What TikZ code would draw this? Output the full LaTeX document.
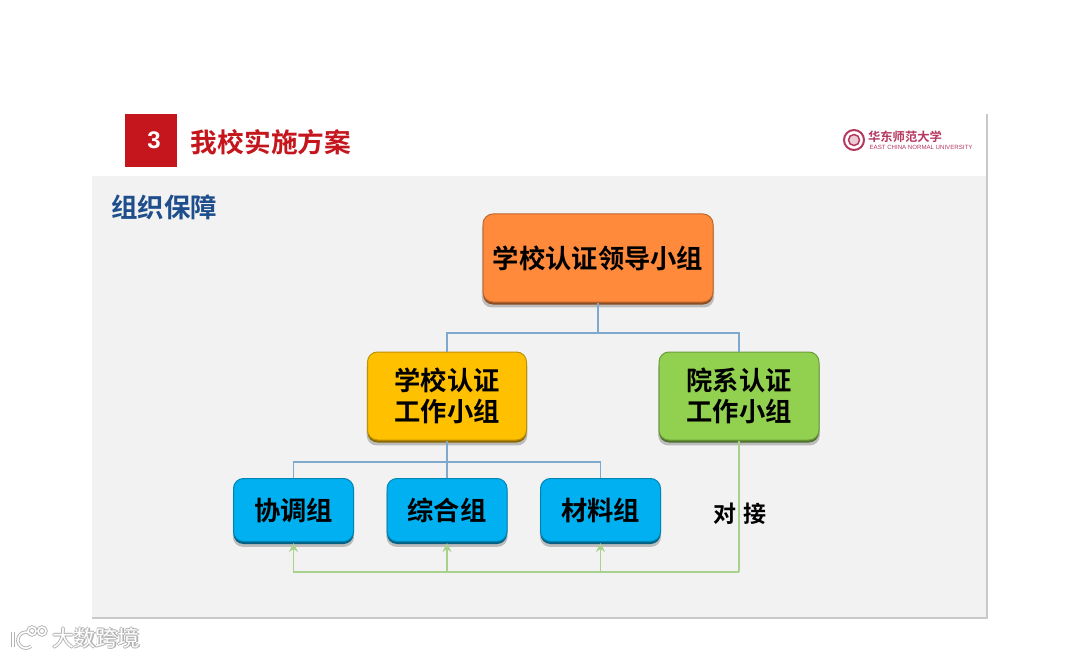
\documentclass[tikz,border=0pt]{standalone}
\usepackage{fontspec}
\setmainfont{Liberation Sans}
\setmonofont{Liberation Mono}
\newfontfamily\cjk[BoldFont=Noto Sans CJK SC Bold]{Noto Sans CJK SC}
\usetikzlibrary{arrows.meta,shadows}
\definecolor{slidegray}{HTML}{F2F2F2}
\definecolor{edgegray}{HTML}{C9C9C9}
\definecolor{headred}{HTML}{C4161C}
\definecolor{titleblue}{HTML}{1F4E8C}
\definecolor{logored}{HTML}{B5385F}
\definecolor{treeblue}{HTML}{7FA9CC}
\definecolor{linkgreen}{HTML}{A9D18E}
\definecolor{boxorange}{HTML}{FF8A3C}
\definecolor{boxyellow}{HTML}{FFC000}
\definecolor{boxgreen}{HTML}{92D050}
\definecolor{boxblue}{HTML}{00B0F0}
\newcommand{\boxline}[1]{\raisebox{-1.5pt}{#1}}
\tikzset{
    orgbox/.style={rounded corners=10pt, inner sep=0pt, align=center, text=black,
        line width=1pt, font=\cjk\bfseries\fontsize{26.3}{31.5}\selectfont},
    boxshade/.style={
        general shadow={fill=black, opacity=0.22, shadow yshift=-5pt, shadow scale=1.01},
        general shadow={fill=#1!55!black, shadow yshift=-2.5pt}},
    treeline/.style={draw=treeblue, line width=1.3pt},
    linkline/.style={draw=linkgreen, line width=1.5pt},
    linkarrow/.style={linkline, -{Stealth[length=9pt,width=9pt]}, shorten >=1pt},
}
\begin{document}
\begin{tikzpicture}[x=1pt,y=-1pt]
    \useasboundingbox (0,0) rectangle (1080,658);
    \fill[white] (0,0) rectangle (1080,658);
    % Слайд: белая шапка и серое поле.
    \fill[slidegray] (92,176) rectangle (987,618);
    \draw[edgegray, line width=1.2pt] (987,114) -- (987,618) -- (92,618);
    \fill[headred] (125,114) rectangle (177,167);
    \node[text=white, font=\bfseries\fontsize{24}{24}\selectfont] (num) at (154,140) {3};
    \node[text=headred, font=\cjk\bfseries\fontsize{26.7}{30}\selectfont] (title) at (271,142) {我校实施方案};
    \node[text=titleblue, font=\cjk\bfseries\fontsize{26.5}{30}\selectfont] (sub) at (164,207) {组织保障};
    % Эмблема университета.
    \draw[logored, line width=2pt] (854,140) circle (10pt);
    \draw[logored, line width=1.5pt, fill=logored!25] (854,140) circle (5.5pt);
    \node[text=logored, font=\cjk\bfseries\fontsize{12.3}{14}\selectfont] (logocn) at (905,137) {华东师范大学};
    \node[text=logored, font=\fontsize{6.1}{7}\selectfont] (logoen) at (921,147) {EAST CHINA NORMAL UNIVERSITY};
    % Блоки схемы.
    \node[orgbox, fill=boxorange, draw=boxorange!75!black, boxshade=boxorange,
        minimum width=230pt, minimum height=88pt] (lead) at (598,258) {\boxline{学校认证领导小组}};
    \node[orgbox, fill=boxyellow, draw=boxyellow!75!black, boxshade=boxyellow,
        minimum width=159pt, minimum height=88pt] (school) at (447,396) {\boxline{学校认证}\\\boxline{工作小组}};
    \node[orgbox, fill=boxgreen, draw=boxgreen!75!black, boxshade=boxgreen,
        minimum width=160pt, minimum height=88pt] (dept) at (739,396) {\boxline{院系认证}\\\boxline{工作小组}};
    \foreach \name/\x/\label in {xietiao/293.5/协调组, zonghe/447/综合组, cailiao/600.5/材料组} {
        \node[orgbox, fill=boxblue, draw=boxblue!75!black, boxshade=boxblue,
            minimum width=120pt, minimum height=63pt] (\name) at (\x,510) {\boxline{\label}};
    }
    \node[text=black, font=\cjk\fontsize{23}{26}\selectfont\bfseries] (dock) at (740,514) {对\,\,接};
    % Линии дерева.
    \coordinate (leadbus) at (598,333);
    \coordinate (schoolbus) at (447,462);
    \draw[treeline] (lead.south) -- (leadbus);
    \draw[treeline] (school.north) |- (leadbus) -| (dept.north);
    \draw[treeline] (school.south) -- (schoolbus);
    \draw[treeline] (xietiao.north) |- (schoolbus) -| (cailiao.north);
    \draw[treeline] (schoolbus) -- (zonghe.north);
    % Зелёная обратная связь.
    \coordinate (linkcorner) at (739,572);
    \draw[linkline] (dept.south) -- (linkcorner);
    \foreach \name in {xietiao,zonghe,cailiao} {
        \draw[linkarrow] (linkcorner) -| (\name.south);
    }
    % Водяной знак.
    \foreach \dx/\dy in {-1/0,1/0,0/-1,0/1} {
        \node[text=black!30, font=\cjk\fontsize{22}{24}\selectfont] at (96+\dx,638+\dy) {大数跨境};
    }
    \node[text=white, font=\cjk\fontsize{22}{24}\selectfont] (mark) at (96,638) {大数跨境};
    \foreach \w/\c in {3.4pt/black!30, 1.6pt/white} {
        \draw[\c, line width=\w] (13,632) -- (13,647);
        \draw[\c, line width=\w] (31,634) arc (50:310:8pt);
        \draw[\c, line width=\w] (32,631) circle (4pt);
        \draw[\c, line width=\w] (42,631) circle (4pt);
    }
\end{tikzpicture}
\end{document}
